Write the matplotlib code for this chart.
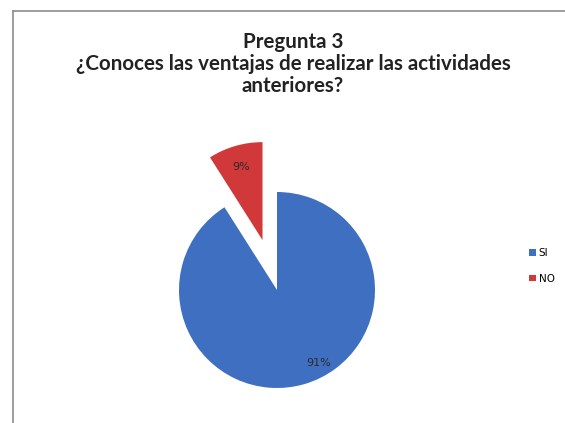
import matplotlib
matplotlib.use("Agg")
import matplotlib.pyplot as plt
from matplotlib.lines import Line2D

labels = ["SI", "NO"]
values = [91, 9]
colors = ["#3F6FC0", "#D0383A"]
explode = [0, 0.53]

W, H = 565, 423
fig = plt.figure(figsize=(W / 100, H / 100), dpi=100)
fig.patch.set_facecolor("white")

# chart border (top and left edges only visible)
fig.add_artist(Line2D([13 / W, 13 / W], [0, 1 - 11 / H], transform=fig.transFigure,
                      color="#8c8c8c", lw=1.2))
fig.add_artist(Line2D([13 / W, 1], [1 - 11 / H, 1 - 11 / H], transform=fig.transFigure,
                      color="#8c8c8c", lw=1.2))

fig.text(293 / W, 1 - 64 / H,
         "Pregunta 3\n¿Conoces las ventajas de realizar las actividades\nanteriores?",
         ha="center", va="center", fontsize=14.8, fontweight="bold",
         family="Lato", color="#222222", linespacing=1.15)

# pie axes: center (277, 290) px, radius 98 px
r = 98
half = 1.3
cx, cy = 277, H - 290
ax = fig.add_axes([(cx - half * r) / W, (cy - half * r) / H, 2 * half * r / W, 2 * half * r / H])
wedges, texts, autotexts = ax.pie(values, colors=colors, explode=explode, startangle=90,
                                  counterclock=False, autopct="%1.0f%%", pctdistance=0.78,
                                  textprops=dict(fontsize=8, color="#2a2a2a"))
autotexts[0].set_position((0.42, -0.74))
ax.set_xlim(-half, half)
ax.set_ylim(-half, half)
ax.set_aspect("equal")
ax.axis("off")

leg = fig.legend(wedges, labels, loc="center left", bbox_to_anchor=(520 / W, 1 - 266 / H),
                 frameon=False, fontsize=7.5, handlelength=0.6, handleheight=0.6,
                 handletextpad=0.3, labelspacing=1.5)

fig.savefig("out.png", dpi=100)
